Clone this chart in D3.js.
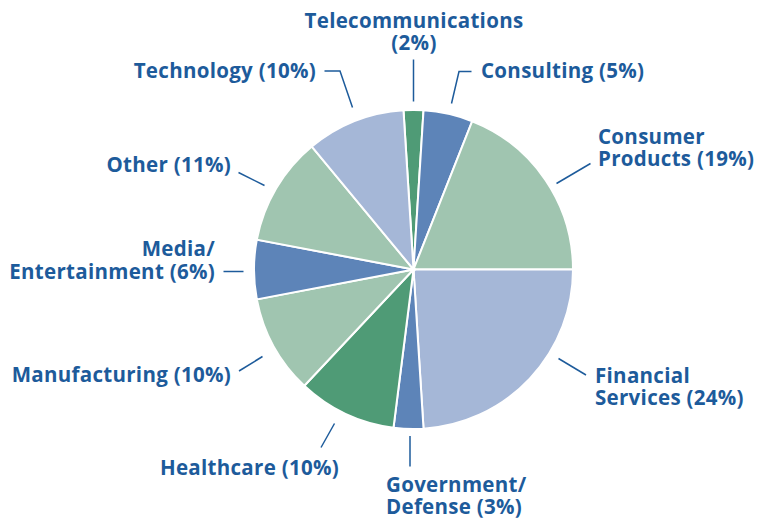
<!DOCTYPE html>
<html>
<head>
<meta charset="utf-8">
<script src="https://cdn.jsdelivr.net/npm/d3@7"></script>
<style>
  body { margin: 0; background: #fff; }
  .label { font-family: "Open Sans", sans-serif; font-weight: 700; font-size: 20.5px; letter-spacing: 0.3px; fill: #1d5b9b; }
  .leader { fill: none; stroke: #1d5b9b; stroke-width: 1.5; }
</style>
</head>
<body>
<script>
// sectors, clockwise from the top
var sectors = ["Telecommunications", "Consulting", "Consumer Products", "Financial Services",
               "Government/Defense", "Healthcare", "Manufacturing", "Media/Entertainment",
               "Other", "Technology"];
var shares = [2, 5, 19, 24, 3, 10, 10, 6, 11, 10];
var labelLines = [
    ["Telecommunications", "(2%)"],
    ["Consulting (5%)"],
    ["Consumer", "Products (19%)"],
    ["Financial", "Services (24%)"],
    ["Government/", "Defense (3%)"],
    ["Healthcare (10%)"],
    ["Manufacturing (10%)"],
    ["Media/", "Entertainment (6%)"],
    ["Other (11%)"],
    ["Technology (10%)"]
];

var colorKey = ["dkgreen", "blue", "ltgreen", "ltblue", "blue", "dkgreen", "ltgreen", "blue", "ltgreen", "ltblue"];
var color = d3.scaleOrdinal()
    .domain(["dkgreen", "blue", "ltgreen", "ltblue"])
    .range(["#4f9b76", "#5d84b8", "#a0c5b0", "#a5b7d7"]);

var width = 758, height = 519;
var cx = 413.5, cy = 269.5, radius = 159.5;

// label placement: leader points relative to centre, text anchor
var layout = [
    {pts: [[0, -168], [0, -210]], x: 414, y: 28, anchor: "middle", lh: 21.5},
    {pts: [[38, -166], [45.5, -198], [58, -198]], x: 481, y: 78, anchor: "start", lh: 22},
    {pts: [[143, -86], [177, -106]], x: 598, y: 144, anchor: "start", lh: 22},
    {pts: [[145, 89], [172.5, 105.5]], x: 595, y: 383, anchor: "start", lh: 22},
    {pts: [[-3.5, 166.5], [-3.5, 197]], x: 386, y: 492, anchor: "start", lh: 21.5},
    {pts: [[-79, 154], [-92.5, 178]], x: 339, y: 475, anchor: "end", lh: 22},
    {pts: [[-151, 87], [-174.5, 101.5]], x: 231, y: 382, anchor: "end", lh: 22},
    {pts: [[-170, 2], [-190, 2]], x: 215, y: 256, anchor: "end", lh: 23},
    {pts: [[-149, -84], [-175, -97]], x: 231, y: 172, anchor: "end", lh: 22},
    {pts: [[-61, -162], [-73.5, -198.5], [-89, -198.5]], x: 316, y: 78, anchor: "end", lh: 22}
];

var data = sectors.map(function(s, i) {
    return {sector: s, share: shares[i], key: colorKey[i], lines: labelLines[i], lay: layout[i]};
});

var svg = d3.select("body").append("svg")
    .attr("width", width)
    .attr("height", height);

var g = svg.append("g")
    .attr("transform", "translate(" + cx + "," + cy + ")");

// rotate so Consumer Products ends exactly at 3 o'clock
var offset = -0.01 * 2 * Math.PI;
var pie = d3.pie()
    .value(function(d) { return d.share; })
    .sort(null)
    .startAngle(offset)
    .endAngle(offset + 2 * Math.PI);

var arc = d3.arc()
    .innerRadius(0)
    .outerRadius(radius);

g.selectAll("path.slice")
    .data(pie(data))
    .enter()
    .append("path")
    .attr("class", "slice")
    .attr("d", arc)
    .style("fill", function(d) { return color(d.data.key); })
    .style("stroke", "#fff")
    .style("stroke-width", 2);

// leader lines
g.selectAll("path.leader")
    .data(data)
    .enter()
    .append("path")
    .attr("class", "leader")
    .attr("d", function(d) { return d3.line()(d.lay.pts); });

// labels
var text = svg.selectAll("text.label")
    .data(data)
    .enter()
    .append("text")
    .attr("class", "label")
    .attr("text-anchor", function(d) { return d.lay.anchor; });

text.selectAll("tspan")
    .data(function(d) {
        return d.lines.map(function(l, i) { return {t: l, x: d.lay.x, y: d.lay.y + i * d.lay.lh}; });
    })
    .enter()
    .append("tspan")
    .attr("x", function(d) { return d.x; })
    .attr("y", function(d) { return d.y; })
    .text(function(d) { return d.t; });
</script>
</body>
</html>
